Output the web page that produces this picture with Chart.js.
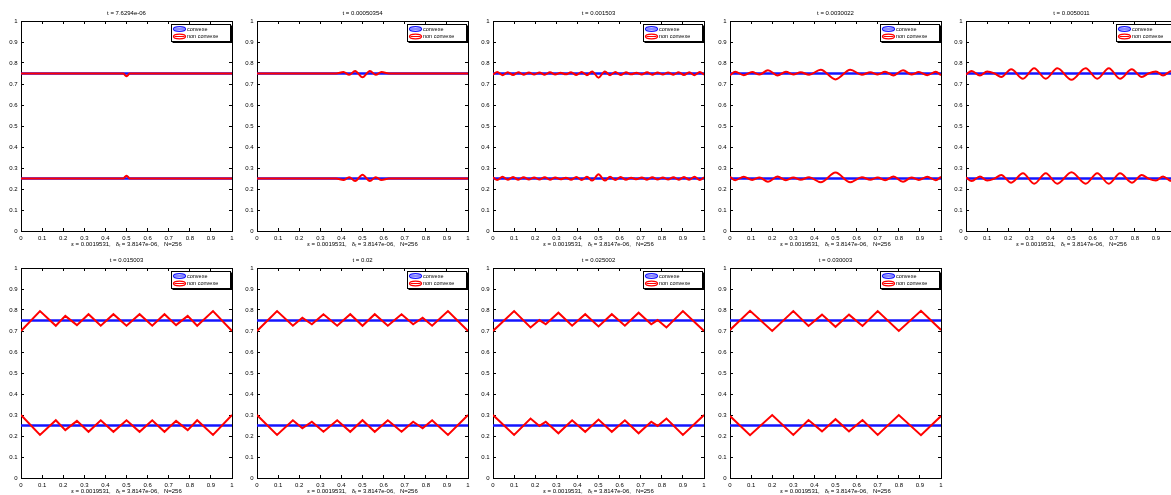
<!DOCTYPE html>
<html>
<head>
<meta charset="utf-8">
<script src="https://cdn.jsdelivr.net/npm/chart.js@4.4.1/dist/chart.umd.min.js"></script>
<style>
  body { margin: 0; background: #fff; width: 1171px; height: 495px; overflow: hidden; position: relative; }
  canvas { position: absolute; }
</style>
</head>
<body>
<script>
// panel titles and shared axis label
const titles = ['t = 7.6294e-06', 't = 0.00050354', 't = 0.001503', 't = 0.0030022', 't = 0.0050011',
                't = 0.015003', 't = 0.02', 't = 0.025002', 't = 0.030003'];
const xLabel = 'ε = 0.0019531,   δₜ = 3.8147e-06,   N=256';
const legendLabels = ['convexe', 'non convexe'];

// convexe solution: flat at both levels
const convexX = [0, 1];
const convexTopY = [0.75, 0.75];
const convexBottomY = [0.25, 0.25];

// non convexe solution, [x, y]
const red1Top = [[0,.75],[.485,.75],[.493,.742],[.5,.737],[.507,.742],[.515,.75],[1,.75]];
const red1Bottom = [[0,.25],[.485,.25],[.493,.258],[.5,.263],[.507,.258],[.515,.25],[1,.25]];

const red2Top = [[0,.75],[.375,.75],[.41,.757],[.437,.744],[.465,.762],[.5,.732],[.535,.762],[.563,.744],[.59,.757],[.625,.75],[1,.75]];
const red2Bottom = [[0,.25],[.375,.25],[.41,.243],[.437,.256],[.465,.238],[.5,.268],[.535,.238],[.563,.256],[.59,.243],[.625,.25],[1,.25]];

const red3Top = [[0,.745],[.02,.757],[.045,.742],[.07,.756],[.095,.743],[.12,.756],[.145,.744],[.17,.755],[.195,.745],[.22,.755],
  [.245,.744],[.27,.756],[.295,.745],[.32,.754],[.345,.746],[.37,.756],[.395,.743],[.42,.757],[.445,.742],[.47,.76],[.5,.73],
  [.53,.76],[.555,.742],[.58,.757],[.605,.743],[.63,.756],[.655,.746],[.68,.754],[.705,.745],[.73,.756],[.755,.744],
  [.78,.755],[.805,.745],[.83,.755],[.855,.744],[.88,.756],[.905,.743],[.93,.756],[.955,.742],[.98,.757],[1,.745]];
const red3Bottom = [[0,.255],[.02,.243],[.045,.258],[.07,.244],[.095,.257],[.12,.244],[.145,.256],[.17,.245],[.195,.255],[.22,.245],
  [.245,.256],[.27,.244],[.295,.255],[.32,.246],[.345,.254],[.37,.244],[.395,.257],[.42,.243],[.445,.258],[.47,.24],[.5,.27],
  [.53,.24],[.555,.258],[.58,.243],[.605,.257],[.63,.244],[.655,.254],[.68,.246],[.705,.255],[.73,.244],[.755,.256],
  [.78,.245],[.805,.255],[.83,.245],[.855,.256],[.88,.244],[.905,.257],[.93,.244],[.955,.258],[.98,.243],[1,.255]];

const red4Top = [[0,.742],[.025,.758],[.065,.742],[.105,.757],[.14,.745],[.18,.766],[.225,.741],[.265,.758],[.3,.745],[.335,.756],
  [.375,.744],[.43,.768],[.5,.722],[.57,.768],[.625,.744],[.665,.756],[.7,.745],[.735,.758],[.775,.741],[.82,.766],
  [.86,.745],[.895,.757],[.935,.742],[.975,.758],[1,.742]];
const red4Bottom = [[0,.258],[.025,.242],[.065,.258],[.105,.243],[.14,.255],[.18,.234],[.225,.259],[.265,.242],[.3,.255],[.335,.244],
  [.375,.256],[.43,.232],[.5,.278],[.57,.232],[.625,.256],[.665,.244],[.7,.255],[.735,.242],[.775,.259],[.82,.234],
  [.86,.255],[.895,.243],[.935,.258],[.975,.242],[1,.258]];

const red5Top = [[0,.745],[.027,.762],[.066,.74],[.1,.76],[.136,.75],[.167,.733],[.214,.77],[.27,.725],[.323,.775],[.378,.725],
  [.433,.775],[.5,.72],[.567,.775],[.622,.725],[.677,.775],[.73,.725],[.786,.77],[.833,.733],[.864,.75],[.9,.76],
  [.934,.74],[.973,.762],[1,.745]];
const red5Bottom = [[0,.255],[.027,.238],[.066,.26],[.1,.24],[.136,.25],[.167,.267],[.214,.23],[.27,.275],[.323,.225],[.378,.275],
  [.433,.225],[.5,.28],[.567,.225],[.622,.275],[.677,.225],[.73,.275],[.786,.23],[.833,.267],[.864,.25],[.9,.24],
  [.934,.26],[.973,.238],[1,.255]];

const red6Top = [[0,.70],[.09,.795],[.165,.725],[.21,.772],[.265,.728],[.32,.78],[.378,.725],[.438,.78],[.5,.725],
  [.562,.78],[.622,.725],[.68,.78],[.735,.728],[.79,.772],[.835,.725],[.91,.795],[1,.70]];
const red6Bottom = [[0,.30],[.09,.205],[.165,.275],[.21,.228],[.265,.272],[.32,.22],[.378,.275],[.438,.22],[.5,.275],
  [.562,.22],[.622,.275],[.68,.22],[.735,.272],[.79,.228],[.835,.275],[.91,.205],[1,.30]];

const red7Top = [[0,.70],[.095,.795],[.17,.725],[.215,.763],[.26,.732],[.315,.78],[.38,.725],[.442,.78],[.5,.725],
  [.558,.78],[.62,.725],[.685,.78],[.74,.732],[.785,.763],[.83,.725],[.905,.795],[1,.70]];
const red7Bottom = [[0,.30],[.095,.205],[.17,.275],[.215,.237],[.26,.268],[.315,.22],[.38,.275],[.442,.22],[.5,.275],
  [.558,.22],[.62,.275],[.685,.22],[.74,.268],[.785,.237],[.83,.275],[.905,.205],[1,.30]];

const red8Top = [[0,.70],[.1,.795],[.178,.717],[.22,.752],[.25,.732],[.31,.787],[.375,.725],[.437,.78],[.5,.722],
  [.563,.78],[.625,.725],[.69,.787],[.75,.732],[.78,.752],[.822,.717],[.9,.795],[1,.70]];
const red8Bottom = [[0,.30],[.1,.205],[.178,.283],[.22,.248],[.25,.268],[.31,.213],[.375,.275],[.437,.22],[.5,.278],
  [.563,.22],[.625,.275],[.69,.213],[.75,.268],[.78,.248],[.822,.283],[.9,.205],[1,.30]];

const red9Top = [[0,.705],[.095,.796],[.2,.70],[.3,.795],[.372,.724],[.436,.778],[.5,.72],[.564,.778],[.628,.724],
  [.7,.795],[.8,.70],[.905,.796],[1,.705]];
const red9Bottom = [[0,.295],[.095,.204],[.2,.30],[.3,.205],[.372,.276],[.436,.222],[.5,.28],[.564,.222],[.628,.276],
  [.7,.205],[.8,.30],[.905,.204],[1,.295]];

const redTops = [red1Top, red2Top, red3Top, red4Top, red5Top, red6Top, red7Top, red8Top, red9Top];
const redBottoms = [red1Bottom, red2Bottom, red3Bottom, red4Bottom, red5Bottom, red6Bottom, red7Bottom, red8Bottom, red9Bottom];

// layout of the plot boxes on the page
const colLeft = [21, 257, 493, 730, 966];
const rowTop = [21, 268];
const plotW = 211, plotH = 210;
const padL = 21, padT = 21, padR = 4, padB = 17;

const FONT = 'Liberation Sans, Arial, Helvetica, sans-serif';
const BLUE = '#1414ff';
const RED = '#ff0000';

// matlab style legend box in the top right corner of the axes
const legendBox = {
  id: 'legendBox',
  afterDatasetsDraw(chart) {
    const { ctx, chartArea } = chart;
    const w = 59, h = 17;
    const x0 = Math.round(chartArea.right - w - 2), y0 = Math.round(chartArea.top + 3);
    ctx.save();
    ctx.fillStyle = '#fff';
    ctx.fillRect(x0, y0, w, h);
    ctx.strokeStyle = '#000';
    ctx.lineWidth = 1;
    ctx.strokeRect(x0 + 0.5, y0 + 0.5, w, h);
    ctx.beginPath();
    ctx.moveTo(x0 + 1.5, y0 + h + 1.5);
    ctx.lineTo(x0 + w + 1.5, y0 + h + 1.5);
    ctx.lineTo(x0 + w + 1.5, y0 + 1.5);
    ctx.stroke();
    legendLabels.forEach((label, k) => {
      const ds = chart.data.datasets.find(d => d.label === label);
      const yc = y0 + 5 + k * 7.5;
      const xc = x0 + 8.5;
      ctx.strokeStyle = ds.borderColor;
      ctx.lineWidth = 1.3;
      ctx.beginPath();
      ctx.ellipse(xc, yc, 6, 2.3, 0, 0, Math.PI * 2);
      ctx.stroke();
      ctx.lineWidth = 1;
      ctx.beginPath();
      ctx.moveTo(xc - 5, yc);
      ctx.lineTo(xc + 5, yc);
      ctx.stroke();
      ctx.fillStyle = '#000';
      ctx.font = '5.5px ' + FONT;
      ctx.textBaseline = 'middle';
      ctx.textAlign = 'left';
      ctx.fillText(label, x0 + 16, yc + 0.3);
    });
    ctx.restore();
  }
};

const tickText = v => String(Math.round(v * 10) / 10);

// fixed box sizes so every axes lands where it is in the figure
const fixBox = (w, h) => s => {
  if (w !== null) s.width = w;
  if (h !== null) s.height = h;
  s.paddingLeft = 0; s.paddingRight = 0; s.paddingTop = 0; s.paddingBottom = 0;
};

function makeScales(title) {
  const tickFont = { family: FONT, size: 6 };
  const base = {
    type: 'linear', min: 0, max: 1,
    grid: { drawOnChartArea: false, tickLength: -3, color: '#000', lineWidth: 1 },
    border: { display: true, color: '#000', width: 1 }
  };
  return {
    x: Object.assign({}, base, {
      position: 'bottom',
      ticks: { stepSize: 0.1, autoSkip: false, maxRotation: 0, color: '#000', font: tickFont, padding: 7, callback: tickText },
      title: { display: true, text: xLabel, color: '#000', font: tickFont, padding: { top: 0, bottom: 0.5 } },
      afterFit: fixBox(null, padB)
    }),
    x2: Object.assign({}, base, {
      position: 'top',
      ticks: { stepSize: 0.1, autoSkip: false, display: false },
      title: { display: true, text: title, color: '#000', font: tickFont, padding: { top: 10, bottom: 0 } },
      afterFit: fixBox(null, padT)
    }),
    y: Object.assign({}, base, {
      position: 'left',
      ticks: { stepSize: 0.1, autoSkip: false, color: '#000', font: tickFont, padding: 6.5, callback: tickText },
      afterFit: fixBox(padL, null)
    }),
    y2: Object.assign({}, base, {
      position: 'right',
      ticks: { stepSize: 0.1, autoSkip: false, display: false },
      afterFit: fixBox(padR, null)
    })
  };
}

const pts = arr => arr.map(([x, y]) => ({ x, y }));
const line = (xs, ys) => xs.map((x, i) => ({ x, y: ys[i] }));

titles.forEach((title, i) => {
  const row = i < 5 ? 0 : 1;
  const col = i % 5;
  const cv = document.createElement('canvas');
  cv.width = padL + plotW + padR;
  cv.height = padT + plotH + padB;
  cv.style.left = (colLeft[col] - padL) + 'px';
  cv.style.top = (rowTop[row] - padT) + 'px';
  document.body.appendChild(cv);

  const smooth = row === 0 ? 'monotone' : 'default';
  // red drawn over blue, as in the figure
  const redStyle = {
    label: legendLabels[1], borderColor: RED, borderWidth: 2, pointRadius: 0, order: 0,
    cubicInterpolationMode: smooth, tension: 0, fill: false
  };
  const blueStyle = { label: legendLabels[0], borderColor: BLUE, borderWidth: 2.5, pointRadius: 0, order: 1, fill: false };

  new Chart(cv, {
    type: 'line',
    data: {
      datasets: [
        Object.assign({ data: line(convexX, convexTopY) }, blueStyle),
        Object.assign({ data: line(convexX, convexBottomY) }, blueStyle),
        Object.assign({ data: pts(redTops[i]) }, redStyle),
        Object.assign({ data: pts(redBottoms[i]) }, redStyle)
      ]
    },
    options: {
      responsive: false,
      animation: false,
      layout: { padding: 0 },
      scales: makeScales(title),
      plugins: { legend: { display: false }, tooltip: { enabled: false }, title: { display: false } }
    },
    plugins: [legendBox]
  });
});
</script>
</body>
</html>
